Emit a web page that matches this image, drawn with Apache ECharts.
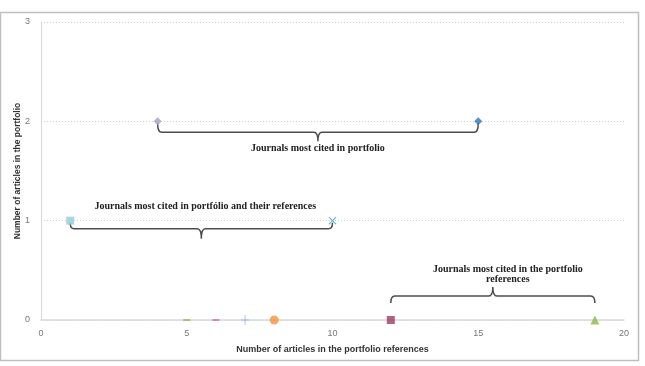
<!DOCTYPE html>
<html>
<head>
<meta charset="utf-8">
<script src="https://cdn.jsdelivr.net/npm/echarts@6/dist/echarts.min.js"></script>
<style>
  html, body { margin: 0; padding: 0; background: #fff; }
  #chart { width: 645px; height: 366px; }
</style>
</head>
<body>
<div id="chart"></div>
<script>
// journals: articles in portfolio references (x) vs articles in portfolio (y)
var refCounts = [4, 15, 1, 10, 5, 6, 7, 8, 12, 19];
var portfolioCounts = [2, 2, 1, 1, 0, 0, 0, 0, 0, 0];
var markerShapes = ['diamond', 'diamond', 'rect', 'cross', 'dash', 'dash', 'plus', 'circle', 'rect', 'triangle'];
var markerColors = ['#a89dc6', '#2e74b5', '#92cddc', '#4bacc6', '#9bbb59', '#d9797a', '#8eb4e3', '#f39241', '#9c3b5e', '#8cb84c'];

// brace groups: from x, to x, at y
var braceFrom = [4, 1, 12];
var braceTo = [15, 10, 19];
var braceAt = [2, 1, 0];
var braceText = [
  ['Journals most cited in portfolio'],
  ['Journals most cited in portfólio and their references'],
  ['Journals most cited in the portfolio', 'references']
];

// pixel geometry of each brace (style only)
var braceLook = [
  {dir: 1, start: 2, bar: 11, tip: 20, tx: 0, ty: 27},
  {dir: 1, start: 2, bar: 8, tip: 18, tx: 4, ty: -14},
  {dir: -1, start: 17, bar: 24, tip: 33, tx: 15, ty: -51}
];

var symbolPaths = {
  cross: 'path://M0,1L1,0L5,4L9,0L10,1L6,5L10,9L9,10L5,6L1,10L0,9L4,5Z',
  plus: 'path://M4.4,0H5.6V4.4H10V5.6H5.6V10H4.4V5.6H0V4.4H4.4Z',
  dash: 'rect'
};
var symbolSizes = {
  diamond: 8, rect: 8, cross: 8, dash: [7, 2], plus: [8, 10], circle: 9, triangle: 9
};

var series = refCounts.map(function(x, i){
  var shape = markerShapes[i];
  return {
    type: 'scatter',
    data: [[x, portfolioCounts[i]]],
    symbol: symbolPaths[shape] || shape,
    symbolSize: symbolSizes[shape],
    itemStyle: {color: markerColors[i]},
    clip: false,
    z: 3
  };
});

series.push({
  type: 'custom',
  data: braceFrom.map(function(x, i){ return [x, braceTo[i], braceAt[i]]; }),
  encode: {x: [0, 1], y: 2},
  clip: false,
  z: 2,
  renderItem: function(params, api){
    var look = braceLook[params.dataIndex];
    var a = api.coord([api.value(0), api.value(2)]);
    var b = api.coord([api.value(1), api.value(2)]);
    var d = look.dir, y0 = a[1];
    var ys = y0 + d * look.start, yb = y0 + d * look.bar, yt = y0 + d * look.tip;
    var x0 = a[0], x1 = b[0], xm = (x0 + x1) / 2, r = 4;
    var path = 'M' + x0 + ',' + ys +
      'Q' + x0 + ',' + yb + ',' + (x0 + r) + ',' + yb +
      'L' + (xm - r) + ',' + yb +
      'Q' + xm + ',' + yb + ',' + xm + ',' + yt +
      'Q' + xm + ',' + yb + ',' + (xm + r) + ',' + yb +
      'L' + (x1 - r) + ',' + yb +
      'Q' + x1 + ',' + yb + ',' + x1 + ',' + ys;
    var children = [{
      type: 'path',
      shape: {pathData: path},
      style: {fill: null, stroke: '#4d4d4d', lineWidth: 1.5}
    }];
    braceText[params.dataIndex].forEach(function(t, k){
      children.push({
        type: 'text',
        style: {
          text: t,
          x: xm + look.tx,
          y: y0 + look.ty + k * 10,
          align: 'center',
          verticalAlign: 'middle',
          font: 'bold 10px "Liberation Serif", serif',
          fill: '#222'
        }
      });
    });
    return {type: 'group', children: children};
  }
});

var chart = echarts.init(document.getElementById('chart'));
chart.setOption({
  animation: false,
  backgroundColor: '#fff',
  grid: {left: 41, right: 21, top: 22, bottom: 46, outerBoundsMode: 'none'},
  graphic: [{
    type: 'rect',
    shape: {x: 0.5, y: 12.5, width: 638, height: 348},
    style: {fill: null, stroke: '#bfbfbf', lineWidth: 1.5},
    silent: true
  }],
  xAxis: {
    type: 'value', min: 0, max: 20, interval: 5,
    name: 'Number of articles in the portfolio references',
    nameLocation: 'middle', nameGap: 25, nameMoveOverlap: false,
    nameTextStyle: {fontFamily: 'Liberation Sans', fontWeight: 'bold', fontSize: 9, color: '#333'},
    axisLine: {lineStyle: {color: '#d9d9d9', width: 1.5}},
    axisTick: {show: false},
    axisLabel: {margin: 9, fontFamily: 'Liberation Sans', fontSize: 9, color: '#777'},
    splitLine: {show: false}
  },
  yAxis: {
    type: 'value', min: 0, max: 3, interval: 1,
    name: 'Number of articles in the portfolio',
    nameLocation: 'middle', nameGap: 19, nameMoveOverlap: false,
    nameTextStyle: {fontFamily: 'Liberation Sans', fontWeight: 'bold', fontSize: 8.5, color: '#333'},
    axisLine: {show: true, lineStyle: {color: '#d9d9d9', width: 1}},
    axisTick: {show: false},
    axisLabel: {margin: 11, fontFamily: 'Liberation Sans', fontSize: 9, color: '#777'},
    splitLine: {lineStyle: {color: '#cfcfcf', type: [1, 2]}}
  },
  series: series
});
</script>
</body>
</html>
